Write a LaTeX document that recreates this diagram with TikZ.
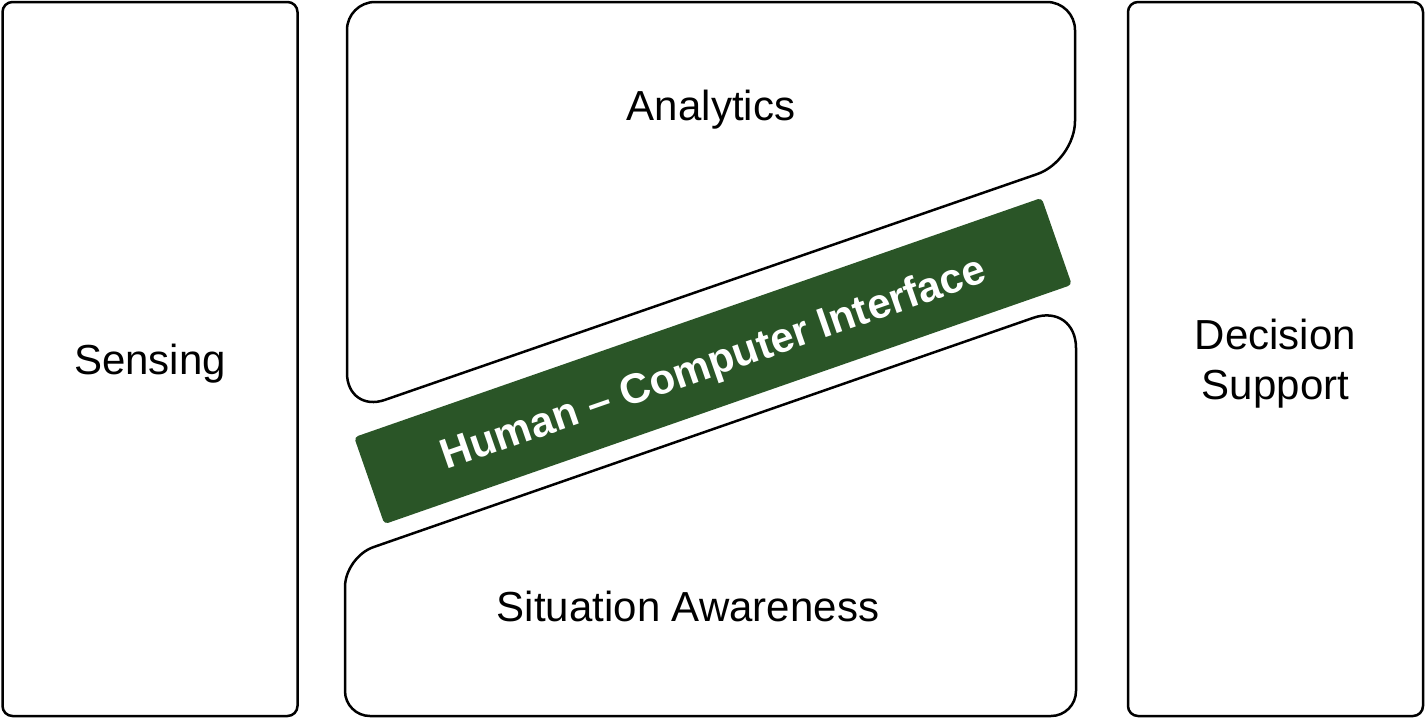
\documentclass[tikz,border=0pt]{standalone}
\usepackage{fontspec}
\setmainfont{Liberation Sans}
\usepackage{xcolor}
\usetikzlibrary{positioning}
\definecolor{hcigreen}{RGB}{42,85,39}

\begin{document}
\begin{tikzpicture}[
    x=1pt, y=-1pt,
    every node/.style={font=\fontsize{42}{50}\selectfont, text depth=0pt},
    side/.style={draw, line width=2.5pt, rounded corners=10pt, align=center, minimum width=295pt, minimum height=714pt},
    panel/.style={draw, line width=2.5pt},
    hcibar/.style={fill=hcigreen, text=white, rounded corners=4pt, rotate=19.2, minimum width=728pt, minimum height=92pt, font=\fontsize{42}{50}\selectfont\bfseries}
  ]
    \useasboundingbox (0,0) rectangle (1425,718);

    \node[side] (sensing) at (150,359) {Sensing};
    \node[side] (decision) at (1275.5,359) {Decision\\Support};

    % upper and lower panels
    \draw[panel] (700,2) [rounded corners=28pt] -- (1075,2)
        [rounded corners=40pt] -- (1075,161) -- (347,413)
        [rounded corners=28pt] -- (347,2) -- cycle;
    \draw[panel] (700,716) [rounded corners=25pt] -- (345,716)
        [rounded corners=30pt] -- (345,557)
        [rounded corners=45pt] -- (1076,303)
        [rounded corners=25pt] -- (1076,716) -- cycle;

    \node (analytics) at (711,105) {Analytics};
    \node (awareness) at (688,606) {Situation Awareness};

    \node[hcibar] (hci) at (713,361) {Human -- Computer Interface};
  \end{tikzpicture}
\end{document}
